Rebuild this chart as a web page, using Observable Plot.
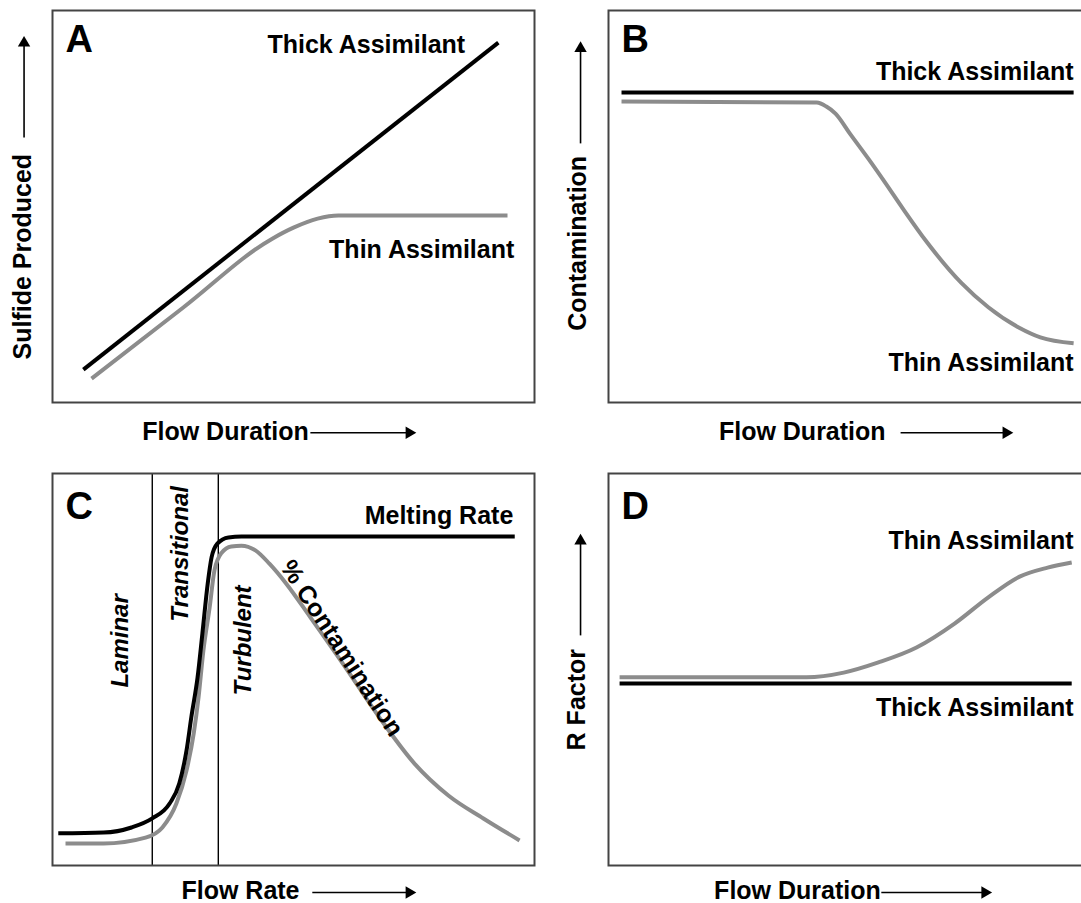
<!DOCTYPE html>
<html>
<head>
<meta charset="utf-8">
<script src="https://cdn.jsdelivr.net/npm/d3@7"></script>
<script src="https://cdn.jsdelivr.net/npm/@observablehq/plot@0.6"></script>
<style>
  html, body { margin: 0; padding: 0; background: #fff; overflow: hidden; }
  #fig { position: relative; width: 1081px; height: 903px; overflow: hidden; background: #fff; }
  .panel { position: absolute; width: 540px; height: 450px; }
</style>
</head>
<body>
<div id="fig"></div>
<script>
// ---------- Panel A : Sulfide Produced vs Flow Duration ----------
const A_thick_x = [6.4, 92.5];
const A_thick_y = [8.4, 91.8];
const A_thin_x  = [8.1, 27.0, 45.6, 50.0, 55.0, 59.3, 94.4];
const A_thin_y  = [6.1, 24.1, 41.8, 44.6, 46.9, 47.7, 47.7];

// ---------- Panel B : Contamination vs Flow Duration ----------
const B_thick_x = [2.7, 96.5];
const B_thick_y = [79.1, 79.1];
const B_thin_x  = [2.7, 43.2, 45.2, 47.1, 50.2, 53.9, 57.5, 61.0, 66.0, 73.2, 78.8, 85.3, 89.6, 96.5];
const B_thin_y  = [76.8, 76.5, 75.5, 73.7, 68.4, 62.2, 55.9, 49.6, 41.0, 30.5, 24.3, 19.0, 16.6, 15.1];

// ---------- Panel C : Melting rate / % Contamination vs Flow Rate ----------
const C_melt_x = [1.2, 10.6, 16.4, 20.7, 24.3, 26.3, 27.8, 28.8, 30.1, 31.1, 32.2, 33.0, 34.2, 36.5, 39.2, 95.9];
const C_melt_y = [8.2, 8.4, 9.7, 12.0, 15.8, 20.9, 29.3, 37.8, 48.0, 59.2, 71.9, 78.6, 82.1, 83.7, 83.9, 83.9];
const C_cont_x = [2.7, 10.6, 19.3, 22.8, 25.7, 27.8, 29.3, 30.3, 31.3, 32.6, 33.6, 35.1, 37.1, 39.2, 42.1, 45.0, 48.5, 53.5, 60.8, 67.8, 75.1, 82.2, 89.4, 96.9];
const C_cont_y = [5.6, 5.6, 7.1, 9.7, 15.8, 24.2, 33.7, 42.9, 54.8, 65.8, 75.3, 79.8, 81.4, 81.6, 80.4, 77.0, 71.9, 63.3, 50.5, 37.8, 26.0, 17.8, 12.0, 6.4];
const C_regimeBounds = [20.7, 34.4];

// ---------- Panel D : R Factor vs Flow Duration ----------
const D_thick_x = [2.3, 96.1];
const D_thick_y = [46.4, 46.4];
const D_thin_x  = [2.3, 41.1, 48.8, 56.0, 63.9, 71.8, 78.8, 85.3, 91.1, 96.1];
const D_thin_y  = [48.0, 48.0, 49.2, 51.8, 55.6, 61.7, 68.4, 73.7, 76.0, 77.3];

// ---------- Annotations (label text and anchor values) ----------
const A_labels = [
  {text: "Thick Assimilant", x: 65.1, y: 91.1, anchor: "middle"},
  {text: "Thin Assimilant",  x: 76.6, y: 39.0, anchor: "middle"}
];
const B_labels = [
  {text: "Thick Assimilant", x: 96.5, y: 84.4, anchor: "end"},
  {text: "Thin Assimilant",  x: 96.5, y: 10.2, anchor: "end"}
];
const C_labels = [
  {text: "Melting Rate", x: 95.6, y: 89.2, anchor: "end"}
];
const C_regimeLabels = [
  {text: "Laminar",      x: 14.0, y: 57.3},
  {text: "Transitional", x: 26.6, y: 79.5},
  {text: "Turbulent",    x: 39.6, y: 57.4}
];
const C_curveLabels = [
  {text: "% Contamination", x: 60.0, y: 55.4, angle: 57}
];
const D_labels = [
  {text: "Thin Assimilant",  x: 96.5, y: 82.7, anchor: "end"},
  {text: "Thick Assimilant", x: 96.5, y: 40.2, anchor: "end"}
];

// axis titles and their arrows (x1,y1 → x2,y2 ; head at x2,y2)
const A_xTitle = {text: "Flow Duration", x: 35.9, y: -7.4};
const A_xArrow = {x1: 53.5, y1: -7.7, x2: 74.0, y2: -7.7, dir: 90};
const A_yTitle = {text: "Sulfide Produced", x: -6.2, y: 37.2};
const A_yArrow = {x1: -5.9, y1: 67.6, x2: -5.9, y2: 91.7, dir: 0};

const B_xTitle = {text: "Flow Duration", x: 40.2, y: -7.4};
const B_xArrow = {x1: 60.6, y1: -7.7, x2: 82.5, y2: -7.7, dir: 90};
const B_yTitle = {text: "Contamination", x: -6.4, y: 40.6};
const B_yArrow = {x1: -5.8, y1: 66.1, x2: -5.8, y2: 90.3, dir: 0};

const C_xTitle = {text: "Flow Rate", x: 39.0, y: -6.6};
const C_xArrow = {x1: 53.9, y1: -6.9, x2: 74.0, y2: -6.9, dir: 90};

const D_xTitle = {text: "Flow Duration", x: 39.2, y: -6.6};
const D_xArrow = {x1: 56.6, y1: -6.9, x2: 78.1, y2: -6.9, dir: 90};
const D_yTitle = {text: "R Factor", x: -6.6, y: 42.3};
const D_yArrow = {x1: -5.8, y1: 58.7, x2: -5.8, y2: 82.8, dir: 0};

// ---------- rendering ----------
const FONT = '"Liberation Sans", Arial, Helvetica, sans-serif';
const BLACK = "#000";
const GREY = "#8c8c8c";
const zipXY = (xs, ys) => xs.map((x, i) => ({x, y: ys[i]}));

function makePanel(cfg) {
  const marks = [];
  if (cfg.rules) marks.push(Plot.ruleX(cfg.rules, {stroke: BLACK, strokeWidth: 1.4}));
  for (const s of cfg.series) {
    marks.push(Plot.line(zipXY(s.x, s.y), {
      x: "x", y: "y", stroke: s.color, strokeWidth: 4,
      curve: s.x.length > 2 ? "monotone-x" : "linear",
      strokeLinejoin: "round", strokeLinecap: "butt"
    }));
  }
  marks.push(Plot.frame({stroke: "#444", strokeWidth: 2}));
  marks.push(Plot.text([cfg.letter], {
    text: d => d, frameAnchor: "top-left", dx: 13, dy: cfg.letterDy,
    lineAnchor: "top", textAnchor: "start", fontSize: 38, fontWeight: "bold", fill: BLACK
  }));
  if (cfg.labels) {
    for (const anchor of ["start", "middle", "end"]) {
      const subset = cfg.labels.filter(d => d.anchor === anchor);
      if (!subset.length) continue;
      marks.push(Plot.text(subset, {
        x: "x", y: "y", text: "text", textAnchor: anchor, lineAnchor: "middle",
        fontSize: 25, fontWeight: "bold", fill: BLACK
      }));
    }
  }
  if (cfg.italicLabels) marks.push(Plot.text(cfg.italicLabels, {
    x: "x", y: "y", text: "text", rotate: -90, textAnchor: "middle", lineAnchor: "middle",
    fontSize: 24, fontWeight: "bold", fontStyle: "italic", fill: BLACK
  }));
  if (cfg.curveLabels) marks.push(Plot.text(cfg.curveLabels, {
    x: "x", y: "y", text: "text", rotate: d => d.angle, textAnchor: "middle", lineAnchor: "middle",
    fontSize: 25, fontWeight: "bold", fill: BLACK
  }));
  // axis titles
  marks.push(Plot.text([cfg.xTitle], {
    x: "x", y: "y", text: "text", textAnchor: "middle", lineAnchor: "middle",
    fontSize: 25, fontWeight: "bold", fill: BLACK
  }));
  if (cfg.yTitle) marks.push(Plot.text([cfg.yTitle], {
    x: "x", y: "y", text: "text", rotate: -90, textAnchor: "middle", lineAnchor: "middle",
    fontSize: 25, fontWeight: "bold", fill: BLACK
  }));
  const arrows = [cfg.xArrow, cfg.yArrow].filter(Boolean);
  marks.push(Plot.link(arrows, {x1: "x1", y1: "y1", x2: "x2", y2: "y2", stroke: BLACK, strokeWidth: 1.6}));
  marks.push(Plot.dot(arrows, {x: "x2", y: "y2", symbol: "triangle", r: 4.6, fill: BLACK, stroke: "none", rotate: "dir"}));

  return Plot.plot({
    width: 540, height: 450,
    marginLeft: 52, marginRight: 6, marginTop: 10, marginBottom: 48,
    x: {domain: [0, 100], axis: null},
    y: {domain: [0, 100], axis: null},
    style: {fontFamily: FONT, overflow: "visible", background: "transparent"},
    marks
  });
}

const panels = [
  {left: 0, top: 0, cfg: {
    letter: "A", letterDy: 15,
    series: [{x: A_thick_x, y: A_thick_y, color: BLACK}, {x: A_thin_x, y: A_thin_y, color: GREY}],
    labels: A_labels, xTitle: A_xTitle, xArrow: A_xArrow, yTitle: A_yTitle, yArrow: A_yArrow
  }},
  {left: 556, top: 0, cfg: {
    letter: "B", letterDy: 15,
    series: [{x: B_thick_x, y: B_thick_y, color: BLACK}, {x: B_thin_x, y: B_thin_y, color: GREY}],
    labels: B_labels, xTitle: B_xTitle, xArrow: B_xArrow, yTitle: B_yTitle, yArrow: B_yArrow
  }},
  {left: 0, top: 463, cfg: {
    letter: "C", letterDy: 19, rules: C_regimeBounds,
    series: [{x: C_cont_x, y: C_cont_y, color: GREY}, {x: C_melt_x, y: C_melt_y, color: BLACK}],
    labels: C_labels, italicLabels: C_regimeLabels, curveLabels: C_curveLabels,
    xTitle: C_xTitle, xArrow: C_xArrow
  }},
  {left: 556, top: 463, cfg: {
    letter: "D", letterDy: 19,
    series: [{x: D_thick_x, y: D_thick_y, color: BLACK}, {x: D_thin_x, y: D_thin_y, color: GREY}],
    labels: D_labels, xTitle: D_xTitle, xArrow: D_xArrow, yTitle: D_yTitle, yArrow: D_yArrow
  }}
];

const fig = document.getElementById("fig");
for (const p of panels) {
  const div = document.createElement("div");
  div.className = "panel";
  div.style.left = p.left + "px";
  div.style.top = p.top + "px";
  div.appendChild(makePanel(p.cfg));
  fig.appendChild(div);
}
</script>
</body>
</html>
